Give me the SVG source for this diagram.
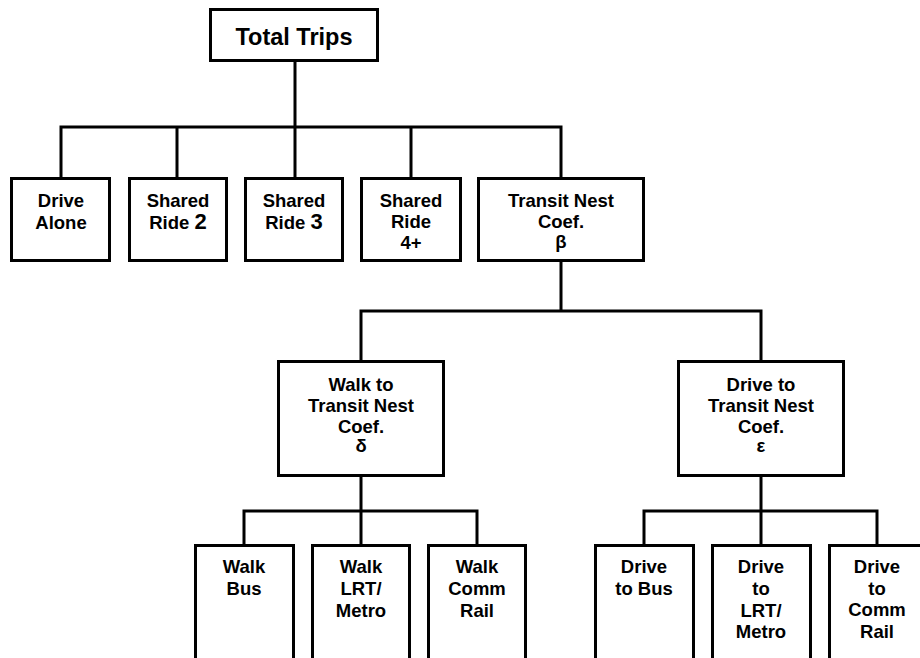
<svg xmlns="http://www.w3.org/2000/svg" width="920" height="658" viewBox="0 0 920 658">
<style>
rect{fill:#fff;stroke:#000;stroke-width:3}
.c path{fill:none;stroke:#000;stroke-width:3}
text{font-family:"Liberation Sans",Arial,sans-serif;font-weight:bold;font-size:18.5px;text-anchor:middle;fill:#000}
.big{font-size:22px}
.title{font-size:23.5px}
</style>
<rect x="0" y="0" width="920" height="658" style="stroke:none"/>
<g class="c" id="connectors">
<path d="M295 61V127M61 178V127H561V178M177 127V178M295 127V178M411 127V178"/>
<path d="M561 261V311M361 362V311H761V362"/>
<path d="M361 477V511M244 546V511H477V546M361 511V546"/>
<path d="M761 477V511M644 546V511H877V546M761 511V546"/>
</g>
<g id="total"><rect x="210.5" y="9.5" width="167" height="51"/><text class="title" x="294" y="45">Total Trips</text></g>
<g id="drivealone"><rect x="11.5" y="178.5" width="98" height="82"/><text x="61" y="207">Drive</text><text x="61" y="229">Alone</text></g>
<g id="sr2"><rect x="129.5" y="178.5" width="97" height="82"/><text x="178" y="207">Shared</text><text x="178" y="229">Ride <tspan class="big">2</tspan></text></g>
<g id="sr3"><rect x="245.5" y="178.5" width="97" height="82"/><text x="294" y="207">Shared</text><text x="294" y="229">Ride <tspan class="big">3</tspan></text></g>
<g id="sr4"><rect x="361.5" y="178.5" width="99" height="82"/><text x="411" y="207">Shared</text><text x="411" y="228">Ride</text><text x="411" y="249">4+</text></g>
<g id="transit"><rect x="478.5" y="178.5" width="165" height="82"/><text x="561" y="207">Transit Nest</text><text x="561" y="228">Coef.</text><text x="561" y="248">β</text></g>
<g id="walkto"><rect x="278.5" y="361.5" width="165" height="114"/><text x="361" y="391">Walk to</text><text x="361" y="412">Transit Nest</text><text x="361" y="433">Coef.</text><text x="361" y="452">δ</text></g>
<g id="driveto"><rect x="678.5" y="361.5" width="165" height="114"/><text x="761" y="391">Drive to</text><text x="761" y="412">Transit Nest</text><text x="761" y="433">Coef.</text><text x="761" y="452">ε</text></g>
<g id="walkbus"><rect x="195.5" y="545.5" width="98" height="130"/><text x="244" y="573">Walk</text><text x="244" y="595">Bus</text></g>
<g id="walklrt"><rect x="312.5" y="545.5" width="97" height="130"/><text x="361" y="573">Walk</text><text x="361" y="595">LRT/</text><text x="361" y="617">Metro</text></g>
<g id="walkcomm"><rect x="428.5" y="545.5" width="97" height="130"/><text x="477" y="573">Walk</text><text x="477" y="595">Comm</text><text x="477" y="617">Rail</text></g>
<g id="drivebus"><rect x="595.5" y="545.5" width="98" height="130"/><text x="644" y="573">Drive</text><text x="644" y="595">to Bus</text></g>
<g id="drivelrt"><rect x="712.5" y="545.5" width="98" height="130"/><text x="761" y="573">Drive</text><text x="761" y="595">to</text><text x="761" y="617">LRT/</text><text x="761" y="638">Metro</text></g>
<g id="drivecomm"><rect x="829.5" y="545.5" width="97" height="130"/><text x="877" y="573">Drive</text><text x="877" y="595">to</text><text x="877" y="616">Comm</text><text x="877" y="638">Rail</text></g>
</svg>
